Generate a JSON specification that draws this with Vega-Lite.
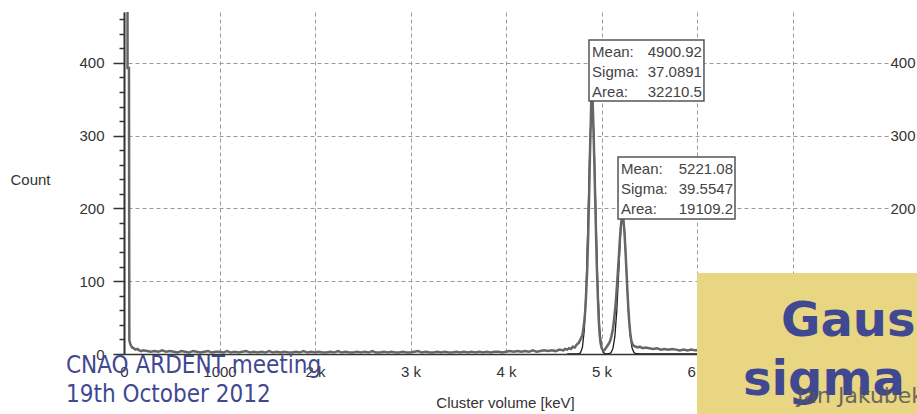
{
  "$schema": "https://vega.github.io/schema/vega-lite/v6.json",
  "width": 764,
  "height": 342,
  "autosize": "none",
  "padding": {"left": 124, "top": 12, "right": 29, "bottom": 60},
  "background": "white",
  "config": {"view": {"stroke": null}, "font": "Liberation Sans"},
  "datasets": {
    "hist": [
      {"x":15,"y":2000},{"x":33,"y":2000},{"x":37,"y":393},{"x":52,"y":393},{"x":56,"y":19},{"x":65,"y":14},{"x":75,"y":11},{"x":85,"y":9},{"x":100,"y":8},{"x":120,"y":6},{"x":140,"y":7},{"x":160,"y":5},{"x":180,"y":4},{"x":200,"y":5},
      {"x":240,"y":4},{"x":280,"y":3},{"x":320,"y":4},{"x":360,"y":3},{"x":400,"y":5},{"x":440,"y":3},{"x":480,"y":4},{"x":520,"y":3},{"x":560,"y":2},{"x":600,"y":4},{"x":640,"y":3},{"x":680,"y":2},{"x":720,"y":4},{"x":760,"y":3},{"x":800,"y":2},{"x":840,"y":3},{"x":880,"y":4},{"x":920,"y":2},{"x":960,"y":3},{"x":1000,"y":3},
      {"x":1040,"y":2},{"x":1080,"y":4},{"x":1120,"y":2},{"x":1160,"y":3},{"x":1200,"y":2},{"x":1240,"y":3},{"x":1280,"y":4},{"x":1320,"y":2},{"x":1360,"y":3},{"x":1400,"y":2},{"x":1440,"y":3},{"x":1480,"y":2},{"x":1520,"y":4},{"x":1560,"y":2},{"x":1600,"y":3},{"x":1640,"y":2},{"x":1680,"y":3},{"x":1720,"y":2},{"x":1760,"y":2},{"x":1800,"y":3},{"x":1840,"y":2},{"x":1880,"y":4},{"x":1920,"y":2},{"x":1960,"y":3},{"x":2000,"y":2},
      {"x":2040,"y":3},{"x":2080,"y":2},{"x":2120,"y":2},{"x":2160,"y":3},{"x":2200,"y":2},{"x":2240,"y":4},{"x":2280,"y":2},{"x":2320,"y":3},{"x":2360,"y":2},{"x":2400,"y":2},{"x":2440,"y":3},{"x":2480,"y":2},{"x":2520,"y":3},{"x":2560,"y":2},{"x":2600,"y":4},{"x":2640,"y":2},{"x":2680,"y":2},{"x":2720,"y":3},{"x":2760,"y":2},{"x":2800,"y":3},{"x":2840,"y":2},{"x":2880,"y":2},{"x":2920,"y":3},{"x":2960,"y":2},{"x":3000,"y":2},
      {"x":3040,"y":3},{"x":3080,"y":4},{"x":3120,"y":2},{"x":3160,"y":3},{"x":3200,"y":2},{"x":3240,"y":2},{"x":3280,"y":3},{"x":3320,"y":2},{"x":3360,"y":3},{"x":3400,"y":2},{"x":3440,"y":2},{"x":3480,"y":3},{"x":3520,"y":2},{"x":3560,"y":3},{"x":3600,"y":2},{"x":3640,"y":3},{"x":3680,"y":2},{"x":3720,"y":3},{"x":3760,"y":2},{"x":3800,"y":3},{"x":3840,"y":2},{"x":3880,"y":3},{"x":3920,"y":3},{"x":3960,"y":2},{"x":4000,"y":3},
      {"x":4040,"y":4},{"x":4080,"y":3},{"x":4120,"y":4},{"x":4160,"y":3},{"x":4200,"y":4},{"x":4240,"y":3},{"x":4280,"y":5},{"x":4320,"y":3},{"x":4360,"y":4},{"x":4400,"y":5},{"x":4440,"y":4},{"x":4480,"y":5},{"x":4520,"y":4},{"x":4560,"y":6},{"x":4600,"y":5},{"x":4620,"y":7},{"x":4640,"y":6},{"x":4660,"y":8},{"x":4680,"y":7},{"x":4700,"y":10},{"x":4720,"y":9},{"x":4740,"y":13},{"x":4760,"y":15},{"x":4780,"y":20},{"x":4800,"y":26},
      {"x":4810,"y":35},{"x":4820,"y":45},{"x":4830,"y":60},{"x":4840,"y":85},{"x":4850,"y":115},{"x":4860,"y":160},{"x":4870,"y":215},{"x":4880,"y":280},{"x":4890,"y":330},{"x":4895,"y":360},{"x":4905,"y":358},{"x":4910,"y":335},{"x":4920,"y":290},{"x":4930,"y":235},{"x":4940,"y":180},{"x":4950,"y":125},{"x":4960,"y":85},{"x":4970,"y":50},{"x":4980,"y":28},{"x":4990,"y":15},{"x":5000,"y":9},{"x":5010,"y":6},{"x":5020,"y":5},{"x":5030,"y":5},
      {"x":5040,"y":7},{"x":5050,"y":9},{"x":5060,"y":11},{"x":5070,"y":13},{"x":5080,"y":15},{"x":5090,"y":18},{"x":5100,"y":22},{"x":5110,"y":28},{"x":5120,"y":35},{"x":5130,"y":45},{"x":5140,"y":58},{"x":5150,"y":72},{"x":5160,"y":90},{"x":5170,"y":110},{"x":5180,"y":130},{"x":5190,"y":152},{"x":5200,"y":172},{"x":5210,"y":185},{"x":5220,"y":190},{"x":5230,"y":184},{"x":5240,"y":168},{"x":5250,"y":145},{"x":5260,"y":118},{"x":5270,"y":90},{"x":5280,"y":65},{"x":5290,"y":45},{"x":5300,"y":30},{"x":5310,"y":20},{"x":5320,"y":15},{"x":5330,"y":12},{"x":5340,"y":11},
      {"x":5360,"y":10},{"x":5380,"y":9},{"x":5400,"y":10},{"x":5430,"y":8},{"x":5460,"y":9},{"x":5500,"y":8},{"x":5540,"y":7},{"x":5580,"y":8},{"x":5620,"y":6},{"x":5660,"y":7},{"x":5700,"y":6},{"x":5740,"y":7},{"x":5780,"y":6},{"x":5820,"y":5},{"x":5860,"y":6},{"x":5900,"y":5},{"x":5940,"y":6},{"x":5980,"y":5},{"x":6020,"y":5},{"x":6060,"y":4},{"x":6100,"y":5},{"x":6200,"y":4}
    ],
    "fit": [
      {"x":4640,"y":0},{"x":4700,"y":0},{"x":4740,"y":0.1},{"x":4760,"y":0.3},{"x":4780,"y":1.8},{"x":4800,"y":9},{"x":4820,"y":33},{"x":4840,"y":92},{"x":4860,"y":191},{"x":4880,"y":297},{"x":4900,"y":346},{"x":4920,"y":304},{"x":4940,"y":199},{"x":4960,"y":97},{"x":4980,"y":35},{"x":5000,"y":9.6},{"x":5020,"y":2},{"x":5040,"y":0.3},{"x":5060,"y":0.05},
      {"x":5080,"y":0.4},{"x":5100,"y":1.9},{"x":5120,"y":7.7},{"x":5140,"y":24},{"x":5160,"y":59},{"x":5180,"y":112},{"x":5200,"y":167},{"x":5220,"y":192.6},{"x":5240,"y":171},{"x":5260,"y":118},{"x":5280,"y":63},{"x":5300,"y":26},{"x":5320,"y":8.2},{"x":5340,"y":2},{"x":5360,"y":0.4},{"x":5400,"y":0},{"x":6000,"y":0}
    ],
    "boxes": [
      {"x":4869,"x2":6073,"y":431.5,"y2":347.7},
      {"x":5173,"x2":6398,"y":270.7,"y2":185.5}
    ],
    "boxLabels": [
      {"x":4901,"y":415.4,"text":"Mean:"},{"x":4901,"y":387.9,"text":"Sigma:"},{"x":4901,"y":360.4,"text":"Area:"},
      {"x":5204,"y":254.6,"text":"Mean:"},{"x":5204,"y":227.2,"text":"Sigma:"},{"x":5204,"y":199.7,"text":"Area:"}
    ],
    "boxValues": [
      {"x":6052,"y":415.4,"text":"4900.92"},{"x":6052,"y":387.9,"text":"37.0891"},{"x":6052,"y":360.4,"text":"32210.5"},
      {"x":6377,"y":254.6,"text":"5221.08"},{"x":6377,"y":227.2,"text":"39.5547"},{"x":6377,"y":199.7,"text":"19109.2"}
    ],
    "slide": [
      {"x":-607,"y":-16.5,"text":"CNAO ARDENT meeting"},
      {"x":-607,"y":-56.3,"text":"19th October 2012"}
    ],
    "yellow": [{"x":6000,"x2":8600,"y":111.3,"y2":-100}],
    "big": [
      {"x":6880,"y":24.7,"text":"Gauss"},
      {"x":6482,"y":-56.3,"text":"sigma ="}
    ],
    "author": [{"x":7047,"y":-67.3,"text":"Jan Jakubek"}]
  },
  "resolve": {"axis": {"y": "independent"}},
  "encoding": {
    "x": {"field": "x", "type": "quantitative", "scale": {"domain": [0, 8000], "nice": false, "zero": false},
      "axis": {"values": [0,1000,2000,3000,4000,5000,6000,7000], "title": "Cluster volume [keV]",
        "labelExpr": "datum.value == 0 ? '0' : datum.value == 1000 ? '1000' : (datum.value/1000) + ' k'",
        "grid": true, "gridDash": [4,3], "gridColor": "#9a9a9a", "gridWidth": 1,
        "domainColor": "#333", "domainWidth": 1.5, "ticks": false, "labelPadding": 10,
        "labelFontSize": 15, "labelColor": "#333", "labelFont": "Liberation Sans",
        "titleFontSize": 15, "titleFontWeight": "normal", "titleColor": "#333", "titleFont": "Liberation Sans",
        "titleX": 381, "titleY": 41, "titleBaseline": "top", "titleAlign": "center", "labelFlush": false}},
    "y": {"field": "y", "type": "quantitative", "scale": {"domain": [0, 470], "nice": false, "zero": false}, "axis": null}
  },
  "layer": [
    {
      "data": {"name": "fit"},
      "mark": {"type": "line", "color": "#1a1a1a", "strokeWidth": 1.3, "clip": true},
      "encoding": {
        "y": {"field": "y", "type": "quantitative", "scale": {"domain": [0, 470], "nice": false, "zero": false},
          "axis": {"orient": "right", "values": [0,100,200,300,400], "title": null, "domain": false, "ticks": false,
            "grid": true, "gridDash": [4,3], "gridColor": "#9a9a9a", "gridWidth": 1,
            "labelPadding": 2, "labelFontSize": 15, "labelColor": "#333", "labelFont": "Liberation Sans"}}
      }
    },
    {
      "data": {"name": "hist"},
      "mark": {"type": "line", "color": "#666", "strokeWidth": 2.5, "clip": true, "interpolate": "linear"},
      "encoding": {
        "y": {"field": "y", "type": "quantitative", "scale": {"domain": [0, 470], "nice": false, "zero": false},
          "axis": {"orient": "left", "values": [0,20,40,60,80,100,120,140,160,180,200,220,240,260,280,300,320,340,360,380,400,420,440,460],
            "labelExpr": "datum.value % 100 === 0 ? datum.label : ''",
            "grid": false, "domainColor": "#333", "domainWidth": 2,
            "tickColor": "#333", "tickWidth": 1.5,
            "tickSize": {"condition": {"test": "datum.value % 100 === 0", "value": 11}, "value": 5},
            "labelPadding": 9, "labelFontSize": 15, "labelColor": "#333", "labelFont": "Liberation Sans",
            "title": "Count", "titleAngle": 0, "titleAlign": "left", "titleBaseline": "middle",
            "titleX": -114, "titleY": 167, "titleFontSize": 15, "titleFontWeight": "normal", "titleColor": "#333", "titleFont": "Liberation Sans"}}
      }
    },
    {
      "data": {"name": "boxes"},
      "mark": {"type": "rect", "fill": "white", "stroke": "#555", "strokeWidth": 1.5},
      "encoding": {"x2": {"field": "x2"}, "y2": {"field": "y2"}}
    },
    {
      "data": {"name": "boxLabels"},
      "mark": {"type": "text", "align": "left", "baseline": "middle", "font": "Liberation Sans", "fontSize": 15, "color": "#444"},
      "encoding": {"text": {"field": "text"}}
    },
    {
      "data": {"name": "boxValues"},
      "mark": {"type": "text", "align": "right", "baseline": "middle", "font": "Liberation Sans", "fontSize": 15, "color": "#444"},
      "encoding": {"text": {"field": "text"}}
    },
    {
      "data": {"name": "slide"},
      "mark": {"type": "text", "align": "left", "baseline": "middle", "font": "DejaVu Sans Condensed, DejaVu Sans", "fontSize": 24, "color": "#3f4891"},
      "encoding": {"text": {"field": "text"}}
    },
    {
      "data": {"name": "yellow"},
      "mark": {"type": "rect", "fill": "#e9d683"},
      "encoding": {"x2": {"field": "x2"}, "y2": {"field": "y2"}}
    },
    {
      "data": {"name": "big"},
      "mark": {"type": "text", "align": "left", "baseline": "alphabetic", "font": "DejaVu Sans", "fontWeight": "bold", "fontSize": 48, "color": "#3f4891"},
      "encoding": {"text": {"field": "text"}}
    },
    {
      "data": {"name": "author"},
      "mark": {"type": "text", "align": "left", "baseline": "alphabetic", "font": "DejaVu Sans", "fontSize": 22, "color": "#555", "opacity": 0.85},
      "encoding": {"text": {"field": "text"}}
    }
  ]
}
